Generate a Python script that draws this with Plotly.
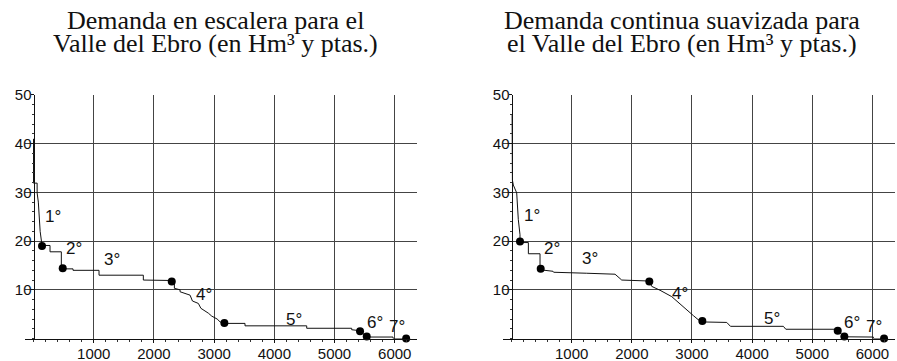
import plotly.graph_objects as go

# ---- data -------------------------------------------------------------
# Staircase demand curve (quantity in Hm3, price in ptas.)
stair_q = [0, 0, 60, 60, 80, 110, 141, 274, 274, 462, 462, 656, 656, 1088, 1088,
           1824, 1824, 2340, 2340, 2434, 2434, 2600, 2640, 2738, 2780, 2821, 2904,
           2960, 3015, 3050, 3100, 3170, 3513, 3513, 4538, 4538, 5285, 5285, 5424,
           5535, 5972, 5972, 6190]
stair_p = [41, 31.9, 31.9, 29.9, 28, 22, 19.1, 19.1, 17.8, 17.8, 14.3, 14.3, 14.0,
           14.0, 13.0, 13.0, 12.0, 11.9, 10.3, 10.0, 9.6, 8.9, 7.7, 7.2, 6.2, 5.9,
           5.2, 4.6, 4.2, 4.0, 3.4, 3.1, 3.1, 2.6, 2.6, 2.1, 2.1, 1.8, 1.6, 0.3,
           0.3, 0.0, 0.0]

# Smoothed continuous demand curve
smooth_q = [10, 15, 30, 86, 113, 141, 141, 280, 280, 474, 474, 485, 690, 700, 1250,
            1721, 1832, 2291, 2331, 2469, 2663, 2856, 3023, 3100, 3172, 3578, 3640,
            4519, 4560, 5378, 5423, 5533, 6015, 6015, 6193]
smooth_p = [46, 32.5, 31.5, 29.9, 24.4, 21.3, 19.7, 19.7, 17.4, 17.4, 14.3, 14.1,
            13.8, 13.6, 13.4, 13.2, 12.0, 11.8, 10.7, 9.9, 8.6, 6.4, 4.7, 3.9, 3.4,
            3.3, 2.5, 2.5, 1.9, 1.9, 1.6, 0.35, 0.3, 0.0, 0.0]

# Block boundary points on each curve
stair_pts_q = [141, 485, 2296, 3170, 5424, 5535, 6190]
stair_pts_p = [19.0, 14.4, 11.7, 3.2, 1.5, 0.4, 0.0]
smooth_pts_q = [141, 485, 2291, 3172, 5423, 5533, 6193]
smooth_pts_p = [19.9, 14.3, 11.7, 3.6, 1.6, 0.4, 0.0]

# Block labels and where they sit
block_labels = ["1°", "2°", "3°", "4°", "5°", "6°", "7°"]
stair_lab_q = [324, 673, 1304, 2824, 4319, 5673, 6030]
stair_lab_p = [25.1, 18.4, 16.3, 9.1, 3.8, 3.2, 2.4]
smooth_lab_q = [333, 668, 1305, 2801, 4322, 5652, 6018]
smooth_lab_p = [25.2, 18.4, 16.4, 9.2, 4.2, 3.3, 2.4]

x_ticks = [1000, 2000, 3000, 4000, 5000, 6000]
y_ticks = [10, 20, 30, 40, 50]

titles = [
    ("Demanda en escalera para el", "Valle del Ebro (en Hm³ y ptas.)"),
    ("Demanda continua suavizada para", "el Valle del Ebro (en Hm³ y ptas.)"),
]

# ---- layout geometry ---------------------------------------------------
W, H = 897, 361
X_RANGE = [-140, 6375]
Y_RANGE = [0, 50.1]
y_dom = [(H - 338.5) / H, (H - 94.5) / H]
x_doms = [[25.1 / W, 417.3 / W], [503.1 / W, 895.0 / W]]
yaxis_pos = [33.5 / W, 511.5 / W]
title_cx = [215.5 / W, 682.0 / W]

tick_font = dict(family="Liberation Sans, Arial, sans-serif", size=15, color="#111")
label_font = dict(family="Liberation Sans, Arial, sans-serif", size=17, color="#111")
title_font = dict(family="Liberation Serif, Times New Roman, serif", size=26,
                  color="#111")
grid_col = "#444"

fig = go.Figure()

panels = [
    (stair_q, stair_p, stair_pts_q, stair_pts_p, stair_lab_q, stair_lab_p),
    (smooth_q, smooth_p, smooth_pts_q, smooth_pts_p, smooth_lab_q, smooth_lab_p),
]

for i, (cq, cp, mq, mp, lq, lp) in enumerate(panels):
    xa = "x" if i == 0 else "x2"
    ya = "y" if i == 0 else "y2"
    fig.add_trace(go.Scatter(x=cq, y=cp, mode="lines", xaxis=xa, yaxis=ya,
                             line=dict(color="#111", width=1), cliponaxis=False,
                             hoverinfo="skip", showlegend=False))
    fig.add_trace(go.Scatter(x=mq, y=mp, mode="markers", xaxis=xa, yaxis=ya,
                             marker=dict(color="#000", size=8, symbol="circle"),
                             cliponaxis=False, showlegend=False))
    for lab, qx, py in zip(block_labels, lq, lp):
        fig.add_annotation(x=qx, y=py, xref=xa, yref=ya, text=lab, showarrow=False,
                           font=label_font)

    sfx = "" if i == 0 else "2"
    fig.update_layout(**{
        "xaxis" + sfx: dict(domain=x_doms[i], range=X_RANGE, anchor=ya,
                            tickvals=x_ticks, showgrid=True, gridcolor=grid_col,
                            gridwidth=1, zeroline=False, showline=True,
                            linecolor="#111", linewidth=1, ticks="outside",
                            ticklen=3, tickcolor="#111", ticklabelstandoff=-2,
                            minor=dict(dtick=200, ticks="outside", ticklen=2,
                                       tickcolor="#333", showgrid=False),
                            tickfont=tick_font, automargin=False, fixedrange=True),
        "yaxis" + sfx: dict(domain=y_dom, range=Y_RANGE, anchor="free",
                            position=yaxis_pos[i], tickvals=y_ticks,
                            showgrid=True, gridcolor=grid_col, gridwidth=1,
                            zeroline=False, showline=True, linecolor="#111",
                            linewidth=1, ticks="outside", ticklen=3,
                            tickcolor="#111", ticklabelstandoff=-4,
                            minor=dict(dtick=2, ticks="outside", ticklen=2,
                                       tickcolor="#333", showgrid=False),
                            tickfont=tick_font, automargin=False, fixedrange=True),
    })

    line1, line2 = titles[i]
    for txt, ypx in ((line1, 20.5), (line2, 44.0)):
        fig.add_annotation(x=title_cx[i], y=1 - ypx / H, xref="paper", yref="paper",
                           text=txt, showarrow=False, xanchor="center",
                           yanchor="middle", font=title_font)

fig.update_layout(width=W, height=H, margin=dict(l=0, r=0, t=0, b=0),
                  paper_bgcolor="white", plot_bgcolor="white", showlegend=False)

fig.write_html("out.html")
